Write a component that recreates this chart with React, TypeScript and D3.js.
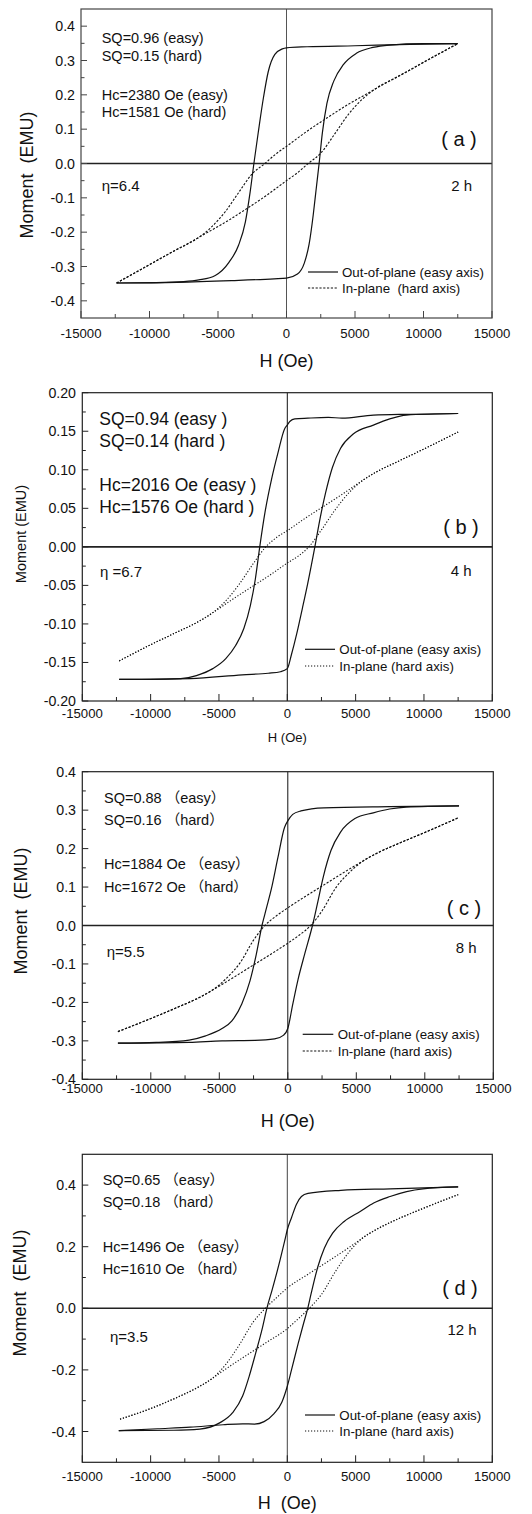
import React from 'react';
import * as d3 from 'd3';

type P = [number, number];

// ---------- shared axis data ----------
const H_TICKS = [-15000, -10000, -5000, 0, 5000, 10000, 15000];
const H_MINOR = [-12500, -7500, -2500, 2500, 7500, 12500];

// ---------- panel (a) 2 h ----------
const A_Y_TICKS = [-0.4, -0.3, -0.2, -0.1, 0, 0.1, 0.2, 0.3, 0.4];
const A_Y_MINOR = [-0.35, -0.25, -0.15, -0.05, 0.05, 0.15, 0.25, 0.35];
const A_EASY_DESC: P[] = [[-12400, -0.348], [-9500, -0.347], [-7500, -0.344], [-6400, -0.339], [-5200, -0.326], [-4200, -0.288], [-3500, -0.238], [-3000, -0.17], [-2650, -0.082], [-2380, 0], [-2050, 0.094], [-1690, 0.19], [-1330, 0.268], [-850, 0.318], [-300, 0.334], [0, 0.337], [1500, 0.34], [5000, 0.343], [9000, 0.347], [12500, 0.349]];
const A_EASY_ASC: P[] = [[-12400, -0.348], [-8000, -0.346], [-4000, -0.341], [-900, -0.336], [0, -0.334], [800, -0.322], [1300, -0.29], [1650, -0.235], [1950, -0.15], [2150, -0.08], [2380, 0], [2620, 0.09], [2950, 0.175], [3450, 0.24], [4150, 0.288], [5100, 0.321], [6300, 0.338], [7500, 0.345], [10000, 0.349], [12500, 0.349]];
const A_HARD_DESC: P[] = [[-12400, -0.348], [-10000, -0.295], [-8000, -0.25], [-6500, -0.218], [-5500, -0.186], [-4500, -0.142], [-3500, -0.085], [-2500, -0.03], [-1581, 0], [-800, 0.027], [0, 0.05], [1500, 0.094], [3000, 0.134], [4500, 0.172], [6000, 0.206], [7500, 0.24], [9000, 0.272], [10700, 0.31], [12500, 0.349]];
const A_HARD_ASC: P[] = [[-12400, -0.348], [-10700, -0.31], [-9000, -0.272], [-7500, -0.24], [-6000, -0.206], [-4500, -0.172], [-3000, -0.134], [-1500, -0.094], [0, -0.05], [800, -0.027], [1581, 0], [2500, 0.03], [3500, 0.085], [4500, 0.142], [5500, 0.186], [6500, 0.218], [8000, 0.25], [10000, 0.295], [12500, 0.349]];
const A_NOTES = ['SQ=0.96 (easy)', 'SQ=0.15 (hard)', 'Hc=2380 Oe (easy)', 'Hc=1581 Oe (hard)'];
const A_LEGEND = ['Out-of-plane (easy axis)', 'In-plane  (hard axis)'];

// ---------- panel (b) 4 h ----------
const B_Y_TICKS = [-0.2, -0.15, -0.1, -0.05, 0, 0.05, 0.1, 0.15, 0.2];
const B_Y_MINOR = [-0.175, -0.125, -0.075, -0.025, 0.025, 0.075, 0.125, 0.175];
const B_EASY_DESC: P[] = [[-12300, -0.172], [-10000, -0.172], [-7800, -0.171], [-6650, -0.167], [-5450, -0.158], [-4500, -0.145], [-3780, -0.128], [-3180, -0.106], [-2700, -0.076], [-2340, -0.042], [-2016, 0], [-1630, 0.045], [-1150, 0.088], [-670, 0.123], [-200, 0.153], [0, 0.158], [200, 0.163], [550, 0.166], [1500, 0.167], [3000, 0.168], [4000, 0.167], [6300, 0.171], [9000, 0.172], [12500, 0.173]];
const B_EASY_ASC: P[] = [[-12300, -0.172], [-7100, -0.171], [-3300, -0.166], [-1400, -0.164], [-500, -0.162], [0, -0.158], [300, -0.14], [700, -0.112], [1100, -0.08], [1500, -0.047], [2016, 0], [2400, 0.037], [2800, 0.07], [3300, 0.103], [3900, 0.128], [4800, 0.146], [6300, 0.158], [7500, 0.166], [8700, 0.171], [12500, 0.173]];
const B_HARD_DESC: P[] = [[-12300, -0.148], [-10000, -0.127], [-8000, -0.11], [-6500, -0.097], [-5500, -0.086], [-4500, -0.07], [-3500, -0.048], [-2500, -0.022], [-1576, 0], [-800, 0.012], [0, 0.021], [1300, 0.037], [2700, 0.053], [4000, 0.068], [5500, 0.086], [6500, 0.097], [8000, 0.11], [10000, 0.127], [12500, 0.149]];
const B_HARD_ASC: P[] = [[-12300, -0.148], [-10000, -0.127], [-8000, -0.11], [-6500, -0.097], [-5500, -0.086], [-4000, -0.068], [-2700, -0.053], [-1300, -0.037], [0, -0.021], [800, -0.012], [1576, 0], [2500, 0.022], [3500, 0.048], [4500, 0.07], [5500, 0.086], [6500, 0.097], [8000, 0.11], [10000, 0.127], [12500, 0.149]];
const B_NOTES = ['SQ=0.94 (easy )', 'SQ=0.14 (hard )', 'Hc=2016 Oe (easy )', 'Hc=1576 Oe (hard )'];
const B_LEGEND = ['Out-of-plane (easy axis)', 'In-plane (hard axis)'];

// ---------- panel (c) 8 h ----------
const C_Y_TICKS = [-0.4, -0.3, -0.2, -0.1, 0, 0.1, 0.2, 0.3, 0.4];
const C_Y_MINOR = [-0.35, -0.25, -0.15, -0.05, 0.05, 0.15, 0.25, 0.35];
const C_EASY_DESC: P[] = [[-12400, -0.306], [-9600, -0.304], [-7200, -0.298], [-6000, -0.287], [-4800, -0.268], [-4080, -0.248], [-3360, -0.204], [-2760, -0.144], [-2300, -0.075], [-1884, 0], [-1560, 0.045], [-1200, 0.095], [-720, 0.177], [-240, 0.255], [0, 0.272], [360, 0.289], [960, 0.298], [2640, 0.306], [7430, 0.309], [12500, 0.311]];
const C_EASY_ASC: P[] = [[-12400, -0.306], [-7200, -0.304], [-4800, -0.3], [-2400, -0.299], [-960, -0.295], [-300, -0.285], [0, -0.268], [360, -0.205], [750, -0.14], [1250, -0.072], [1800, 0], [2150, 0.055], [2600, 0.128], [3150, 0.195], [3850, 0.243], [4900, 0.278], [6240, 0.293], [7430, 0.303], [8630, 0.308], [12500, 0.311]];
const C_HARD_DESC: P[] = [[-12400, -0.276], [-10000, -0.242], [-8000, -0.212], [-6500, -0.188], [-5500, -0.168], [-4500, -0.138], [-3500, -0.098], [-2500, -0.038], [-1672, 0], [-800, 0.026], [0, 0.046], [1300, 0.076], [2700, 0.107], [4000, 0.136], [5500, 0.168], [6500, 0.188], [8000, 0.212], [10000, 0.242], [12500, 0.281]];
const C_HARD_ASC: P[] = [[-12400, -0.276], [-10000, -0.242], [-8000, -0.212], [-6500, -0.188], [-5500, -0.168], [-4000, -0.136], [-2700, -0.107], [-1300, -0.076], [0, -0.046], [800, -0.026], [1672, 0], [2500, 0.038], [3500, 0.098], [4500, 0.138], [5500, 0.168], [6500, 0.188], [8000, 0.212], [10000, 0.242], [12500, 0.281]];
const C_NOTES = ['SQ=0.88 （easy）', 'SQ=0.16 （hard）', 'Hc=1884 Oe （easy）', 'Hc=1672 Oe （hard）'];
const C_LEGEND = ['Out-of-plane (easy axis)', 'In-plane (hard axis)'];

// ---------- panel (d) 12 h ----------
const D_Y_TICKS = [-0.4, -0.2, 0, 0.2, 0.4];
const D_Y_MINOR = [-0.3, -0.1, 0.1, 0.3];
const D_EASY_DESC: P[] = [[-12330, -0.397], [-8300, -0.396], [-6400, -0.392], [-4950, -0.372], [-4000, -0.339], [-3270, -0.285], [-2790, -0.221], [-2310, -0.145], [-1830, -0.065], [-1496, 0], [-1110, 0.06], [-625, 0.14], [-144, 0.228], [0, 0.255], [312, 0.295], [673, 0.338], [1034, 0.363], [1514, 0.373], [3920, 0.383], [7520, 0.388], [12500, 0.394]];
const D_EASY_ASC: P[] = [[-12330, -0.397], [-9500, -0.391], [-7100, -0.386], [-4700, -0.378], [-3270, -0.375], [-2400, -0.376], [-1700, -0.368], [-970, -0.342], [-400, -0.305], [0, -0.253], [312, -0.199], [793, -0.115], [1154, -0.055], [1496, 0], [1755, 0.05], [2236, 0.135], [2716, 0.196], [3317, 0.244], [4160, 0.282], [5360, 0.315], [6320, 0.342], [7520, 0.363], [8730, 0.379], [9930, 0.388], [12500, 0.394]];
const D_HARD_DESC: P[] = [[-12240, -0.36], [-10000, -0.325], [-8000, -0.288], [-6500, -0.255], [-5500, -0.228], [-4500, -0.182], [-3500, -0.118], [-2500, -0.045], [-1610, 0], [-800, 0.034], [0, 0.066], [1500, 0.11], [3000, 0.153], [4500, 0.197], [5500, 0.228], [6500, 0.256], [8000, 0.288], [10000, 0.326], [12500, 0.369]];
const D_HARD_ASC: P[] = [[-12240, -0.36], [-10000, -0.326], [-8000, -0.288], [-6500, -0.256], [-5500, -0.228], [-4500, -0.197], [-3000, -0.153], [-1500, -0.11], [0, -0.066], [800, -0.034], [1610, 0], [2500, 0.045], [3500, 0.118], [4500, 0.182], [5500, 0.228], [6500, 0.255], [8000, 0.288], [10000, 0.325], [12500, 0.369]];
const D_NOTES = ['SQ=0.65 （easy）', 'SQ=0.18 （hard）', 'Hc=1496 Oe （easy）', 'Hc=1610 Oe （hard）'];
const D_LEGEND = ['Out-of-plane (easy axis)', 'In-plane (hard axis)'];

const FONT = "'Liberation Sans', Arial, Helvetica, 'Noto Sans CJK SC', sans-serif";

const PANELS = [
  {
    key: 'a', left: 81, right: 492, top: 9, bottom: 318, yDomain: [-0.45, 0.45], yTicks: A_Y_TICKS, yMinor: A_Y_MINOR, dec: 1,
    easyDesc: A_EASY_DESC, easyAsc: A_EASY_ASC, hardDesc: A_HARD_DESC, hardAsc: A_HARD_ASC,
    notes: A_NOTES, notesX: 101.7, notesY: [38, 56, 95, 112], notesFont: 14.5,
    eta: 'η=6.4', etaX: 101.7, etaY: 185, tag: '( a )', tagX: 459, tagY: 139, time: '2 h', timeX: 472, timeY: 185,
    legend: A_LEGEND, legX1: 308, legX2: 338, legY: [272, 288], legTextX: 342,
    xLabY: 333, xTitle: 'H (Oe)', xTitleY: 361, xTitleFont: 18,
    yTitle: 'Moment  (EMU)', yTitleX: 26.5, yTitleY: 175, yTitleFont: 18, yLabX: 75,
    dash: '2.2,1.6', frame: '#444', zeroV: '#555',
  },
  {
    key: 'b', left: 82.3, right: 492.3, top: 392.7, bottom: 701, yDomain: [-0.2, 0.2], yTicks: B_Y_TICKS, yMinor: B_Y_MINOR, dec: 2,
    easyDesc: B_EASY_DESC, easyAsc: B_EASY_ASC, hardDesc: B_HARD_DESC, hardAsc: B_HARD_ASC,
    notes: B_NOTES, notesX: 99.3, notesY: [419.3, 440.7, 485, 506.7], notesFont: 17.5,
    eta: 'η =6.7', etaX: 100, etaY: 571.7, tag: '( b )', tagX: 461, tagY: 526.7, time: '4 h', timeX: 471.7, timeY: 570,
    legend: B_LEGEND, legX1: 305, legX2: 335, legY: [649.3, 666], legTextX: 339.3,
    xLabY: 713.3, xTitle: 'H (Oe)', xTitleY: 737.7, xTitleFont: 13,
    yTitle: 'Moment (EMU)', yTitleX: 20.7, yTitleY: 534, yTitleFont: 14.5, yLabX: 76,
    dash: '1.2,1.8', frame: '#222', zeroV: '#111',
  },
  {
    key: 'c', left: 82.3, right: 493.3, top: 771.7, bottom: 1079.3, yDomain: [-0.4, 0.4], yTicks: C_Y_TICKS, yMinor: C_Y_MINOR, dec: 1,
    easyDesc: C_EASY_DESC, easyAsc: C_EASY_ASC, hardDesc: C_HARD_DESC, hardAsc: C_HARD_ASC,
    notes: C_NOTES, notesX: 104, notesY: [798.3, 820, 864, 886.7], notesFont: 14.5,
    eta: 'η=5.5', etaX: 106.7, etaY: 951.7, tag: '( c )', tagX: 464, tagY: 907.7, time: '8 h', timeX: 476.7, timeY: 947.7,
    legend: C_LEGEND, legX1: 302.7, legX2: 333.3, legY: [1034.3, 1051], legTextX: 337.7,
    xLabY: 1088, xTitle: 'H (Oe)', xTitleY: 1121, xTitleFont: 18,
    yTitle: 'Moment  (EMU)', yTitleX: 21, yTitleY: 911, yTitleFont: 18, yLabX: 76,
    dash: '2.2,1.6', frame: '#222', zeroV: '#111',
  },
  {
    key: 'd', left: 82.3, right: 492.3, top: 1154.3, bottom: 1462.3, yDomain: [-0.5, 0.5], yTicks: D_Y_TICKS, yMinor: D_Y_MINOR, dec: 1,
    easyDesc: D_EASY_DESC, easyAsc: D_EASY_ASC, hardDesc: D_HARD_DESC, hardAsc: D_HARD_ASC,
    notes: D_NOTES, notesX: 102.7, notesY: [1180, 1201.7, 1246.7, 1269], notesFont: 14.5,
    eta: 'η=3.5', etaX: 110, etaY: 1336.7, tag: '( d )', tagX: 460, tagY: 1288.3, time: '12 h', timeX: 476.7, timeY: 1329,
    legend: D_LEGEND, legX1: 305, legX2: 335, legY: [1415, 1431], legTextX: 339.3,
    xLabY: 1476, xTitle: 'H  (Oe)', xTitleY: 1503.3, xTitleFont: 18,
    yTitle: 'Moment  (EMU)', yTitleX: 19.5, yTitleY: 1293, yTitleFont: 18, yLabX: 76,
    dash: '1.2,1.8', frame: '#222', zeroV: '#444',
  },
];

function Panel({ p }: { p: any }) {
  const x = d3.scaleLinear().domain([-15000, 15000]).range([p.left, p.right]);
  const y = d3.scaleLinear().domain(p.yDomain).range([p.bottom, p.top]);
  const line = d3.line<P>().x(d => x(d[0])).y(d => y(d[1])).curve(d3.curveMonotoneX);
  const fmt = (v: number) => (Math.abs(v) < 1e-9 ? 0 : v).toFixed(p.dec);
  const ink = '#111';
  return (
    <g>
      {/* zero lines */}
      <line x1={p.left} x2={p.right} y1={y(0)} y2={y(0)} stroke="#222" strokeWidth={1.6} />
      <line x1={x(0)} x2={x(0)} y1={p.top} y2={p.bottom} stroke={p.zeroV} strokeWidth={1} />
      {/* curves */}
      <path d={line(p.hardDesc) || ''} fill="none" stroke={ink} strokeWidth={1.1} strokeDasharray={p.dash} />
      <path d={line(p.hardAsc) || ''} fill="none" stroke={ink} strokeWidth={1.1} strokeDasharray={p.dash} />
      <path d={line(p.easyDesc) || ''} fill="none" stroke={ink} strokeWidth={1.2} />
      <path d={line(p.easyAsc) || ''} fill="none" stroke={ink} strokeWidth={1.2} />
      {/* frame */}
      <rect x={p.left} y={p.top} width={p.right - p.left} height={p.bottom - p.top} fill="none" stroke={p.frame} strokeWidth={1.2} />
      {/* x ticks */}
      {H_TICKS.map(t => (
        <g key={'xt' + t}>
          <line x1={x(t)} x2={x(t)} y1={p.bottom} y2={p.bottom - 7} stroke={p.frame} strokeWidth={1} />
          <text x={x(t)} y={p.xLabY} textAnchor="middle" dominantBaseline="central" fontSize={13.2} fill={ink}>{String(t)}</text>
        </g>
      ))}
      {H_MINOR.map(t => (
        <line key={'xm' + t} x1={x(t)} x2={x(t)} y1={p.bottom} y2={p.bottom - 4} stroke={p.frame} strokeWidth={1} />
      ))}
      {/* y ticks */}
      {p.yTicks.map((t: number) => (
        <g key={'yt' + t}>
          <line x1={p.left} x2={p.left + 6} y1={y(t)} y2={y(t)} stroke={p.frame} strokeWidth={1} />
          <text x={p.yLabX} y={y(t)} textAnchor="end" dominantBaseline="central" fontSize={14.2} fill={ink}>{fmt(t)}</text>
        </g>
      ))}
      {p.yMinor.map((t: number) => (
        <line key={'ym' + t} x1={p.left} x2={p.left + 3.5} y1={y(t)} y2={y(t)} stroke={p.frame} strokeWidth={1} />
      ))}
      {/* axis titles */}
      <text x={(p.left + p.right) / 2} y={p.xTitleY} textAnchor="middle" dominantBaseline="central" fontSize={p.xTitleFont} fill={ink} style={{ whiteSpace: 'pre' }}>{p.xTitle}</text>
      <text transform={`translate(${p.yTitleX},${p.yTitleY}) rotate(-90)`} textAnchor="middle" dominantBaseline="central" fontSize={p.yTitleFont} fill={ink} style={{ whiteSpace: 'pre' }}>{p.yTitle}</text>
      {/* annotations */}
      {p.notes.map((s: string, i: number) => (
        <text key={'n' + i} x={p.notesX} y={p.notesY[i]} dominantBaseline="central" fontSize={p.notesFont} fill={ink} style={{ whiteSpace: 'pre' }}>{s}</text>
      ))}
      <text x={p.etaX} y={p.etaY} dominantBaseline="central" fontSize={15} fill={ink} style={{ whiteSpace: 'pre' }}>{p.eta}</text>
      <text x={p.tagX} y={p.tagY} textAnchor="middle" dominantBaseline="central" fontSize={20} fill={ink} style={{ whiteSpace: 'pre' }}>{p.tag}</text>
      <text x={p.timeX} y={p.timeY} textAnchor="end" dominantBaseline="central" fontSize={15} fill={ink}>{p.time}</text>
      {/* legend */}
      <line x1={p.legX1} x2={p.legX2} y1={p.legY[0]} y2={p.legY[0]} stroke={ink} strokeWidth={1.2} />
      <line x1={p.legX1} x2={p.legX2} y1={p.legY[1]} y2={p.legY[1]} stroke={ink} strokeWidth={1.1} strokeDasharray={p.dash} />
      {p.legend.map((s: string, i: number) => (
        <text key={'l' + i} x={p.legTextX} y={p.legY[i]} dominantBaseline="central" fontSize={13.3} fill={ink} style={{ whiteSpace: 'pre' }}>{s}</text>
      ))}
    </g>
  );
}

export default function App() {
  return (
    <svg width={532} height={1514} viewBox="0 0 532 1514" fontFamily={FONT}
      style={{ position: 'absolute', left: 0, top: 0, display: 'block', background: '#fff' }}>
      <rect x={0} y={0} width={532} height={1514} fill="#fff" />
      {PANELS.map(p => <Panel key={p.key} p={p} />)}
    </svg>
  );
}
